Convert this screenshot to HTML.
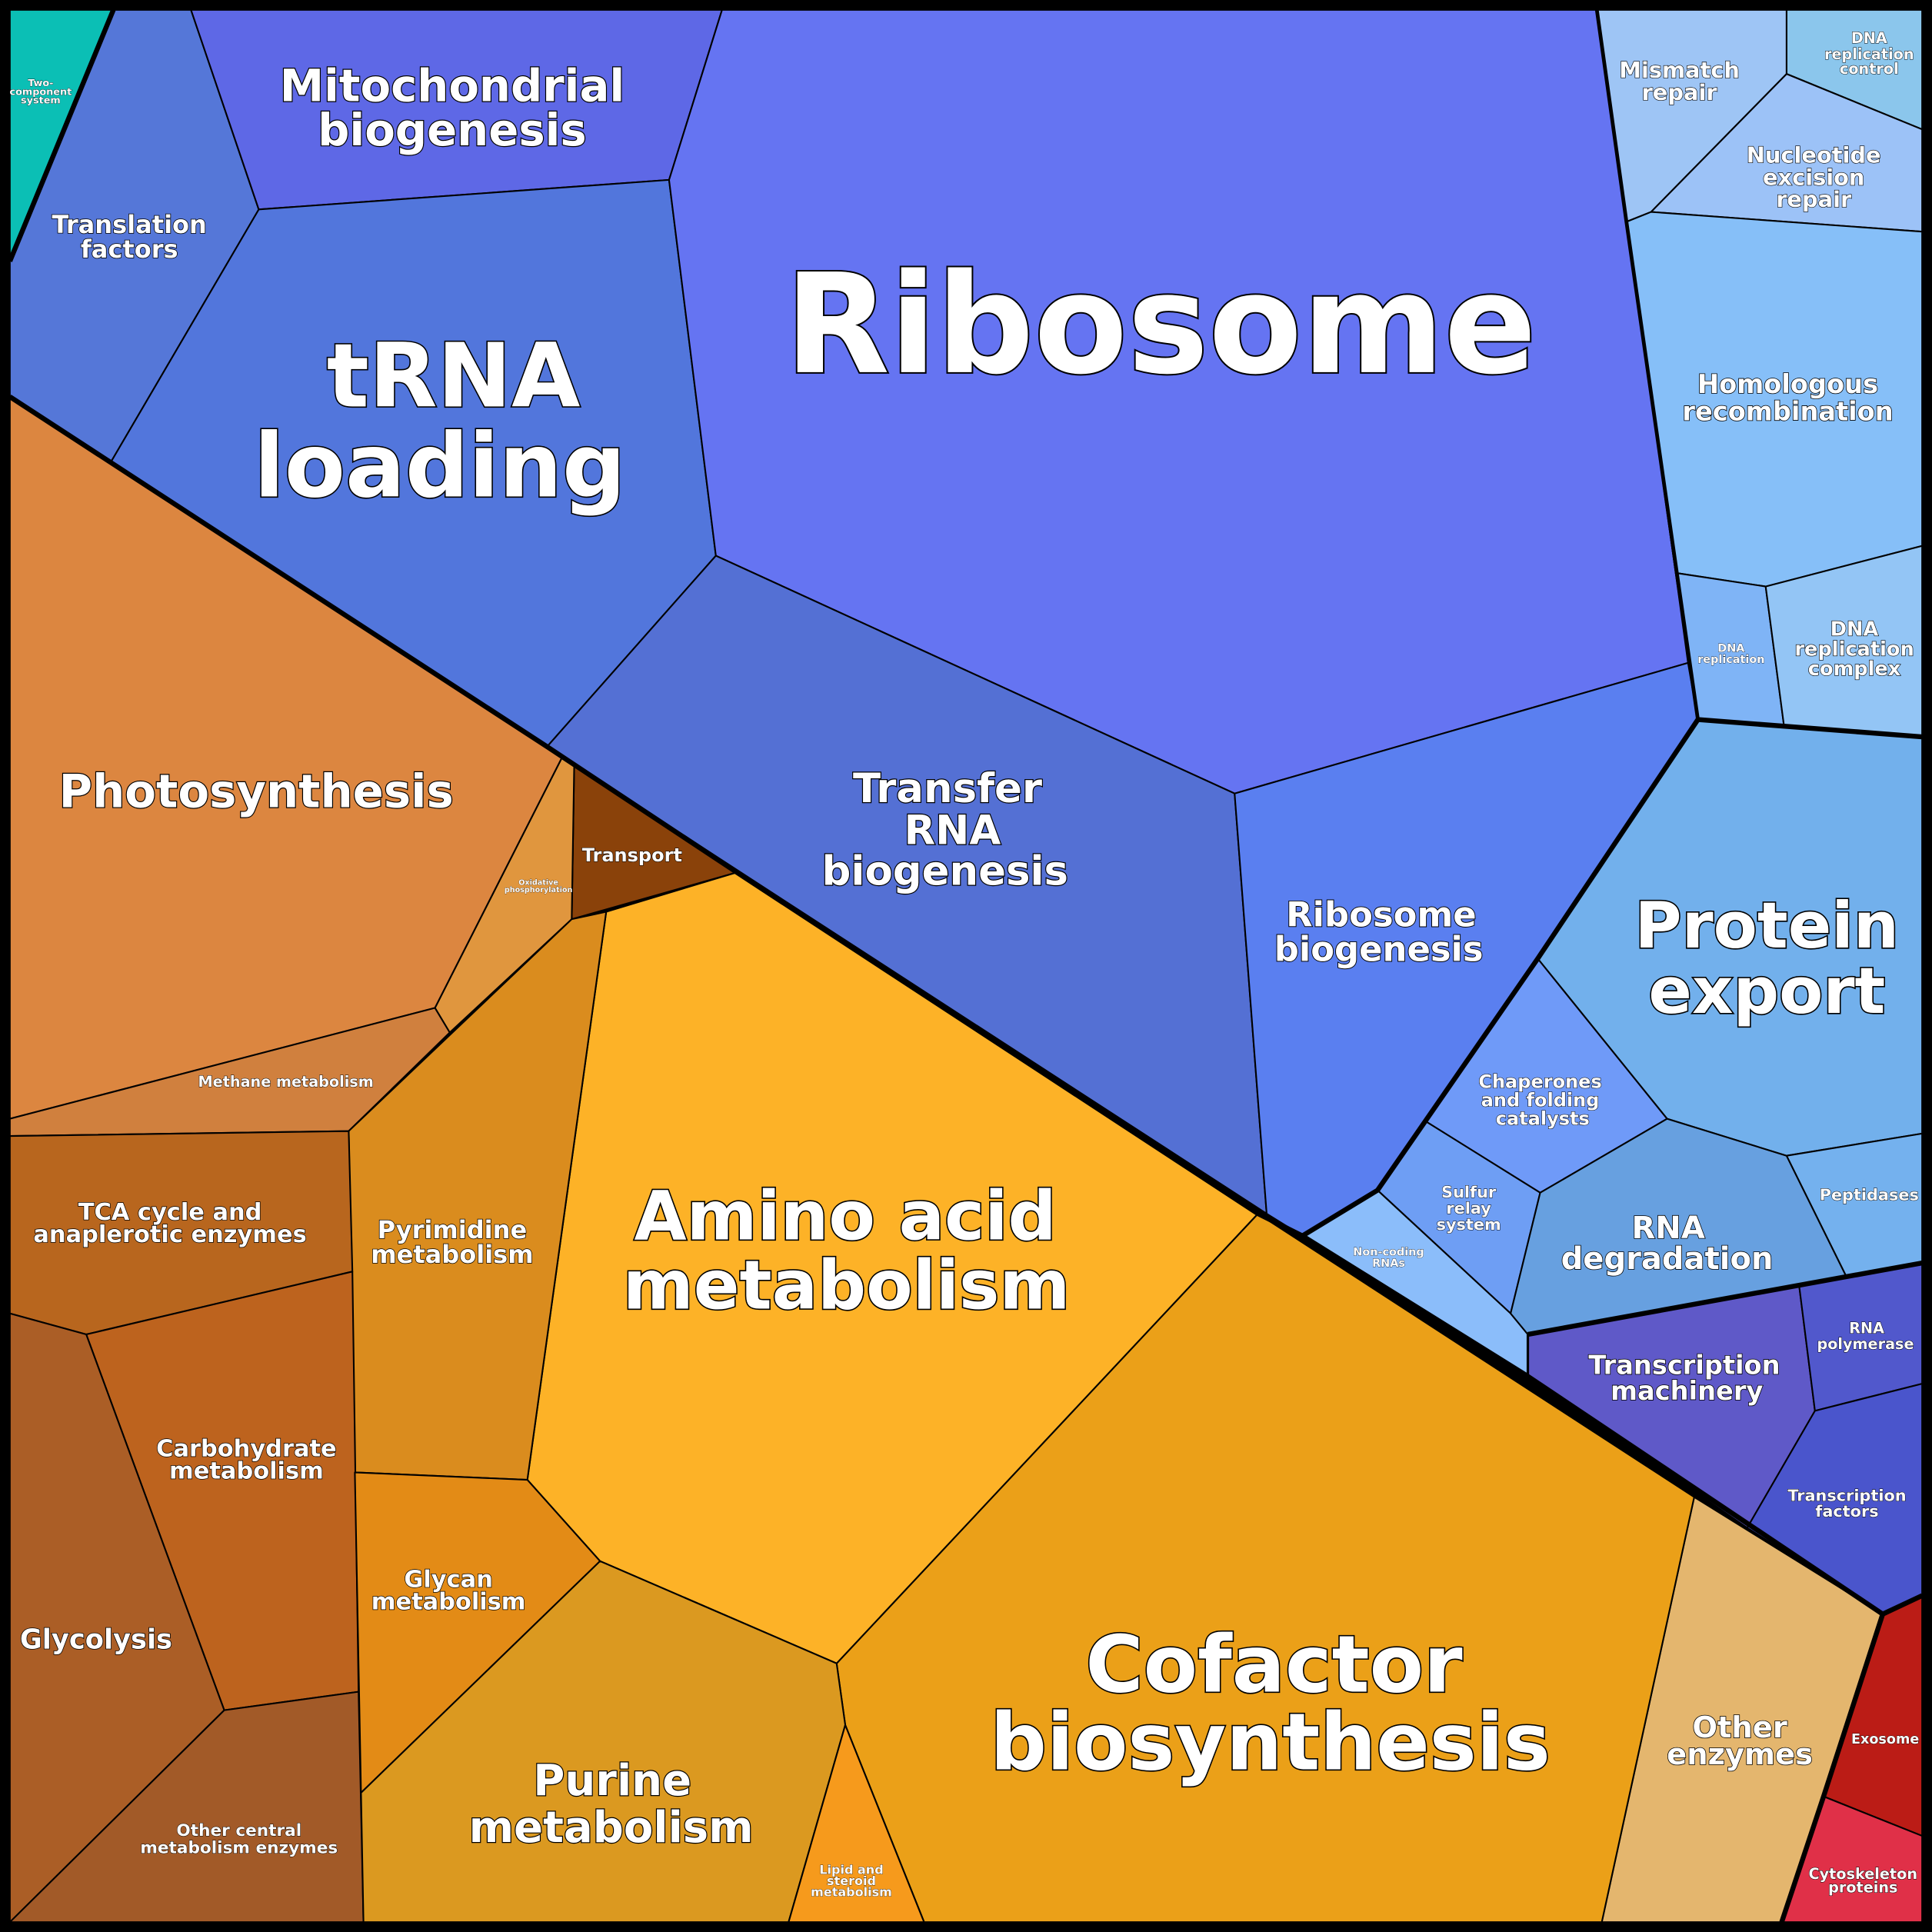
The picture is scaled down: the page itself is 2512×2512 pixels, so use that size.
<!DOCTYPE html>
<html><head><meta charset="utf-8"><style>
html,body{margin:0;padding:0;background:#000}
svg{display:block}
text{font-family:"DejaVu Sans","Liberation Sans",sans-serif;font-weight:bold;fill:#fff;stroke:#000;paint-order:stroke;text-anchor:middle}
polygon{stroke:#000;stroke-width:1.3;stroke-linejoin:round}
</style></head><body>
<svg width="2512" height="2512" viewBox="0 0 1568 1568" xmlns="http://www.w3.org/2000/svg">
<rect x="0" y="0" width="1568" height="1568" fill="#000"/>
<polygon fill="#0bbfb5" points="8,8 92,8 8,212"/>
<polygon fill="#5577d8" points="92,8 155,8 210,170 90,375 8,322 8,212"/>
<polygon fill="#5e68e6" points="155,8 586,8 543,146 210,170"/>
<polygon fill="#5276dc" points="210,170 543,146 581,451 444,606 90,375"/>
<polygon fill="#6574f2" points="586,8 1296,8 1320,180 1360,465 1370,538 1002,644 581,451 543,146"/>
<polygon fill="#5470d4" points="444,606 581,451 1002,644 1028,985"/>
<polygon fill="#5a7ff0" points="1002,644 1370,538 1378,584 1248,778 1118,966 1057,1003 1028,985"/>
<polygon fill="#9ec5f5" points="1296,8 1450,8 1450,60 1340,172 1320,180"/>
<polygon fill="#8bc6ec" points="1450,8 1560,8 1560,105 1450,60"/>
<polygon fill="#9cc2f7" points="1450,60 1560,105 1560,188 1340,172"/>
<polygon fill="#86bff8" points="1320,180 1340,172 1560,188 1560,443 1433,476 1360,465"/>
<polygon fill="#7fb4f6" points="1360,465 1433,476 1448,590 1378,584"/>
<polygon fill="#93c5f5" points="1433,476 1560,443 1560,598 1448,590"/>
<polygon fill="#72b0ec" points="1378,584 1560,598 1560,920 1450,938 1353,908 1248,778"/>
<polygon fill="#6f9af8" points="1248,778 1353,908 1250,968 1157,910"/>
<polygon fill="#6e9ef4" points="1157,910 1250,968 1226,1066 1118,966"/>
<polygon fill="#8bbdfa" points="1057,1003 1118,966 1226,1066 1240,1083 1240,1117"/>
<polygon fill="#67a0e0" points="1250,968 1353,908 1450,938 1498,1035 1240,1083 1226,1066"/>
<polygon fill="#74b1ee" points="1450,938 1560,920 1560,1025 1498,1035"/>
<polygon fill="#5f59c8" points="1240,1083 1460,1042 1473,1145 1418,1240 1240,1117"/>
<polygon fill="#5158cc" points="1460,1042 1560,1025 1560,1123 1473,1145"/>
<polygon fill="#4a55cc" points="1473,1145 1560,1123 1560,1295 1528,1310 1418,1240"/>
<polygon fill="#bb1c16" points="1528,1310 1560,1295 1560,1490 1480,1458"/>
<polygon fill="#e03048" points="1480,1458 1560,1490 1560,1560 1446,1560"/>
<polygon fill="#e4b66e" points="1375,1215 1528,1310 1480,1458 1446,1560 1300,1560"/>
<polygon fill="#eba018" points="1021,985 1375,1215 1300,1560 750,1560 686,1400 679,1350"/>
<polygon fill="#fdb227" points="598,708 1021,985 679,1350 487,1267 428,1201 492,740"/>
<polygon fill="#8a420a" points="466,622 598,708 464,746"/>
<polygon fill="#e0963e" points="456,615 466,622 464,746 365,838 353,818"/>
<polygon fill="#dc8640" points="8,322 456,615 353,818 8,908"/>
<polygon fill="#d0803e" points="8,908 353,818 365,838 283,918 8,922"/>
<polygon fill="#da8c1e" points="283,918 464,746 492,740 428,1201 288,1195"/>
<polygon fill="#b8661e" points="8,922 283,918 286,1032 70,1083 8,1066"/>
<polygon fill="#bd631e" points="70,1083 286,1032 291,1373 182,1388"/>
<polygon fill="#ab5e26" points="8,1066 70,1083 182,1388 8,1560"/>
<polygon fill="#a25a28" points="182,1388 291,1373 295,1560 8,1560"/>
<polygon fill="#e38b16" points="288,1195 428,1201 487,1267 293,1455"/>
<polygon fill="#db9920" points="293,1455 487,1267 679,1350 686,1400 640,1560 295,1560"/>
<polygon fill="#f69a1c" points="686,1400 750,1560 640,1560"/>
<g fill="none" stroke="#000" stroke-width="4" stroke-linejoin="round">
<polyline points="8,322 444,606 598,708 1021,985 1057,1003 1240,1117 1528,1310"/>
<polyline points="92,8 8,212"/>
<polyline points="1057,1003 1118,966 1248,778 1378,584 1560,598"/>
<polyline points="1296,8 1320,180 1378,584" stroke-width="3"/>
<polyline points="1240,1083 1560,1025"/>
<polyline points="1240,1117 1240,1083" stroke-width="2"/>
<polyline points="1528,1310 1560,1295"/>
<polyline points="1528,1310 1480,1458 1446,1560"/>
</g>
<rect x="3.5" y="3.5" width="1561" height="1561" fill="none" stroke="#000" stroke-width="8"/>

<text font-size="8" stroke-width="0.4"><tspan x="33" y="70">Two-</tspan><tspan x="33" y="77">component</tspan><tspan x="33" y="84">system</tspan></text>
<text font-size="20" stroke-width="1"><tspan x="105" y="189">Translation</tspan><tspan x="105" y="209">factors</tspan></text>
<text font-size="36" stroke-width="1.5"><tspan x="367" y="82">Mitochondrial</tspan><tspan x="367" y="118">biogenesis</tspan></text>
<text font-size="72" stroke-width="2"><tspan x="368" y="330">tRNA</tspan><tspan x="357" y="403">loading</tspan></text>
<text font-size="112" stroke-width="2.5" x="942" y="302" textLength="610" lengthAdjust="spacingAndGlyphs">Ribosome</text>
<text font-size="33" stroke-width="1.5"><tspan x="769" y="651">Transfer</tspan><tspan x="773" y="685">RNA</tspan><tspan x="767" y="718">biogenesis</tspan></text>
<text font-size="28" stroke-width="1.2"><tspan x="1121" y="752">Ribosome</tspan><tspan x="1119" y="780">biogenesis</tspan></text>
<text font-size="37" stroke-width="1.5" x="208" y="655">Photosynthesis</text>
<text font-size="55" stroke-width="2"><tspan x="686" y="1006">Amino acid</tspan><tspan x="687" y="1062">metabolism</tspan></text>
<text font-size="64" stroke-width="2"><tspan x="1034" y="1373">Cofactor</tspan><tspan x="1031" y="1436">biosynthesis</tspan></text>
<text font-size="35" stroke-width="1.5"><tspan x="497" y="1457">Purine</tspan><tspan x="496" y="1495">metabolism</tspan></text>
<text font-size="52" stroke-width="2"><tspan x="1434" y="769">Protein</tspan><tspan x="1434" y="822">export</tspan></text>
<text font-size="21" stroke-width="1"><tspan x="1451" y="319">Homologous</tspan><tspan x="1451" y="341">recombination</tspan></text>
<text font-size="18" stroke-width="0.8"><tspan x="1363" y="63">Mismatch</tspan><tspan x="1363" y="81">repair</tspan></text>
<text font-size="12" stroke-width="0.6"><tspan x="1517" y="35">DNA</tspan><tspan x="1517" y="48">replication</tspan><tspan x="1517" y="60">control</tspan></text>
<text font-size="18" stroke-width="0.8"><tspan x="1472" y="132">Nucleotide</tspan><tspan x="1472" y="150">excision</tspan><tspan x="1472" y="168">repair</tspan></text>
<text font-size="9" stroke-width="0.4"><tspan x="1405" y="529">DNA</tspan><tspan x="1405" y="538">replication</tspan></text>
<text font-size="16" stroke-width="0.8"><tspan x="1505" y="516">DNA</tspan><tspan x="1505" y="532">replication</tspan><tspan x="1505" y="548">complex</tspan></text>
<text font-size="15" stroke-width="0.7"><tspan x="1250" y="883">Chaperones</tspan><tspan x="1250" y="898">and folding</tspan><tspan x="1252" y="913">catalysts</tspan></text>
<text font-size="13" stroke-width="0.6"><tspan x="1192" y="972">Sulfur</tspan><tspan x="1192" y="985">relay</tspan><tspan x="1192" y="998">system</tspan></text>
<text font-size="9" stroke-width="0.4"><tspan x="1127" y="1019">Non-coding</tspan><tspan x="1127" y="1028">RNAs</tspan></text>
<text font-size="25" stroke-width="1"><tspan x="1354" y="1005">RNA</tspan><tspan x="1353" y="1030">degradation</tspan></text>
<text font-size="13" stroke-width="0.6" x="1517" y="974">Peptidases</text>
<text font-size="21" stroke-width="1"><tspan x="1367" y="1115">Transcription</tspan><tspan x="1369" y="1136">machinery</tspan></text>
<text font-size="12" stroke-width="0.6"><tspan x="1515" y="1082">RNA</tspan><tspan x="1514" y="1095">polymerase</tspan></text>
<text font-size="13" stroke-width="0.6"><tspan x="1499" y="1218">Transcription</tspan><tspan x="1499" y="1231">factors</tspan></text>
<text font-size="11" stroke-width="0.5" x="1530" y="1415">Exosome</text>
<text font-size="12" stroke-width="0.6"><tspan x="1512" y="1525">Cytoskeleton</tspan><tspan x="1512" y="1536">proteins</tspan></text>
<text font-size="24" stroke-width="1"><tspan x="1412" y="1410">Other</tspan><tspan x="1412" y="1432">enzymes</tspan></text>
<text font-size="10" stroke-width="0.4"><tspan x="691" y="1521">Lipid and</tspan><tspan x="691" y="1530">steroid</tspan><tspan x="691" y="1539">metabolism</tspan></text>
<text font-size="19" stroke-width="0.9"><tspan x="364" y="1288">Glycan</tspan><tspan x="364" y="1306">metabolism</tspan></text>
<text font-size="20" stroke-width="0.9"><tspan x="367" y="1005">Pyrimidine</tspan><tspan x="367" y="1025">metabolism</tspan></text>
<text font-size="15" stroke-width="0.7" x="513" y="699">Transport</text>
<text font-size="6" stroke-width="0.3"><tspan x="437" y="718">Oxidative</tspan><tspan x="437" y="724">phosphorylation</tspan></text>
<text font-size="12" stroke-width="0.6" x="232" y="882">Methane metabolism</text>
<text font-size="19" stroke-width="0.9"><tspan x="138" y="990">TCA cycle and</tspan><tspan x="138" y="1008">anaplerotic enzymes</tspan></text>
<text font-size="19" stroke-width="0.9"><tspan x="200" y="1182">Carbohydrate</tspan><tspan x="200" y="1200">metabolism</tspan></text>
<text font-size="22" stroke-width="1" x="78" y="1338">Glycolysis</text>
<text font-size="13.5" stroke-width="0.6"><tspan x="194" y="1490">Other central</tspan><tspan x="194" y="1504">metabolism enzymes</tspan></text>
</svg>
</body></html>
